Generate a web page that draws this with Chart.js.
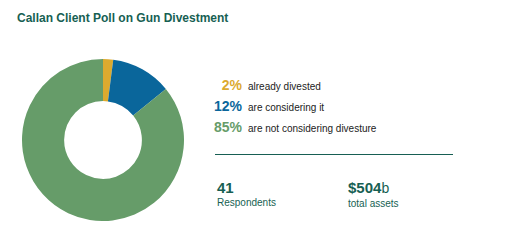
<!DOCTYPE html>
<html>
<head>
<meta charset="utf-8">
<script src="https://cdn.jsdelivr.net/npm/chart.js@4"></script>
<style>
    body { margin: 0; width: 511px; height: 250px; background: #fff; font-family: 'Liberation Sans', Arial, sans-serif; position: relative; overflow: hidden; }
    #title { position: absolute; left: 17px; top: 11px; font-size: 12px; font-weight: bold; color: #175f53; }
    #donut-wrap { position: absolute; left: 22px; top: 59px; width: 162px; height: 162px; }
    .row { position: absolute; left: 200px; height: 16px; line-height: 16px; white-space: nowrap; }
    .row .pct { display: inline-block; width: 42px; text-align: right; font-size: 14px; font-weight: bold; margin-right: 6px; }
    .row .lbl { font-size: 10px; color: #222; }
    #rule { position: absolute; left: 215px; top: 154px; width: 238px; height: 1px; background: #175f53; }
    .stat { position: absolute; top: 179px; color: #175f53; }
    .stat .num { font-size: 15px; font-weight: bold; line-height: 17px; }
    .stat .num small { font-size: 14px; font-weight: normal; }
    .stat .sub { font-size: 10px; line-height: 13px; }
</style>
</head>
<body>
<div id="title">Callan Client Poll on Gun Divestment</div>
<div id="donut-wrap"><canvas id="chart-poll" width="162" height="162"></canvas></div>
<div id="legend"></div>
<div id="rule"></div>
<div class="stat" style="left:217px"><div class="num">41</div><div class="sub">Respondents</div></div>
<div class="stat" style="left:348px"><div class="num">$504<small>b</small></div><div class="sub">total assets</div></div>
<script>
// Poll results
const categories = ['already divested', 'are considering it', 'are not considering divesture'];
const shares = [2, 12, 85];
const colors = ['#dcaa2f', '#0a669b', '#669c69'];

document.addEventListener('DOMContentLoaded', () => {
    // legend rows on the right
    const legend = document.getElementById('legend');
    const rowTops = [77, 98, 119];
    categories.forEach((label, i) => {
        const row = document.createElement('div');
        row.className = 'row';
        row.style.top = rowTops[i] + 'px';
        row.innerHTML = '<span class="pct" style="color:' + colors[i] + '">' + shares[i] + '%</span>' +
            '<span class="lbl">' + label + '</span>';
        legend.appendChild(row);
    });

    const ctx = document.getElementById('chart-poll');
    new Chart(ctx, {
        type: 'doughnut',
        data: {
            labels: categories,
            datasets: [{
                data: shares,
                backgroundColor: colors,
                borderWidth: 0
            }]
        },
        options: {
            responsive: false,
            animation: false,
            cutout: '48%',
            plugins: {
                legend: { display: false },
                tooltip: { enabled: false }
            }
        }
    });
});
</script>
</body>
</html>
